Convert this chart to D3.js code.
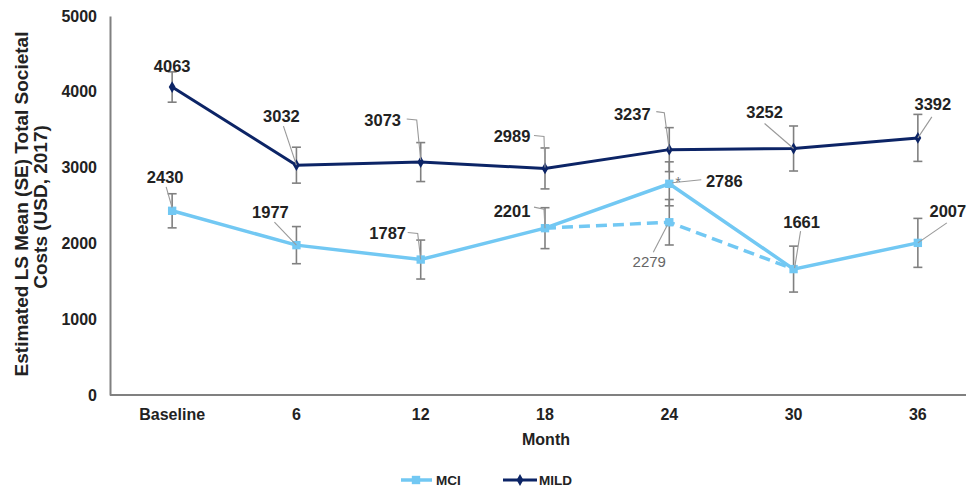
<!DOCTYPE html>
<html><head><meta charset="utf-8">
<script src="https://cdn.jsdelivr.net/npm/d3@7/dist/d3.min.js"></script>
<style>body{margin:0;background:#fff}svg{display:block}text{font-family:"Liberation Sans",Arial,sans-serif}</style>
</head><body><svg id="c" width="968" height="490"></svg>
<script>
// ---- data ----
const months = ["Baseline","6","12","18","24","30","36"];
const mciValues = [2430,1977,1787,2201,2786,1661,2007];
const mciSE = [225,245,257,270,290,303,323];
const mildValues = [4063,3032,3073,2989,3237,3252,3392];
const mildSE = [200,237,257,270,290,297,310];
const mciAltMonths = ["18","24","30"];
const mciAltValues = [2201,2279,1661];
const mciAltSE = [null,300,null];
const yTicks = [0,1000,2000,3000,4000,5000];

// ---- layout (label offsets relative to point, leader points relative to point) ----
const mildLabelPos = [
  {dx:0,dy:-15,leader:null},
  {dx:-15,dy:-43,leader:[[-13,-39],[0,0]]},
  {dx:-38,dy:-36,leader:[[-14,-43],[-4,-42],[0,-2]]},
  {dx:-33,dy:-26,leader:[[-11,-33],[-1,-32],[0,-1]]},
  {dx:-37,dy:-30,leader:[[-13,-38],[-5,-37],[0,0]]},
  {dx:-29,dy:-30,leader:[[-29,-25],[0,0]]},
  {dx:15,dy:-28,leader:[[14,-21],[0,0]]}
];
const mciLabelPos = [
  {dx:-7,dy:-28,leader:[[-6,-24],[0,-3]]},
  {dx:-26,dy:-27,leader:[[-22,-23],[0,0]]},
  {dx:-33,dy:-21,leader:[[-13,-27],[-3,-26],[0,0]]},
  {dx:-33,dy:-11,leader:[[-11,-21],[-1,-19],[0,0]]},
  {dx:55,dy:3,leader:[[3,-1],[32,-4]]},
  {dx:8,dy:-41,leader:[[7,-38],[1,-1]]},
  {dx:30,dy:-26,leader:[[29,-20],[0,0]]}
];
const altLabelPos = {dx:-20,dy:45,leader:[[-16,30],[-2,3]]};

const svg = d3.select("#c");
const x = d3.scaleBand().domain(months).range([110,980]).padding(0);
const cx = m => x(m) + x.bandwidth()/2;
const y = d3.scaleLinear().domain([0,5000]).range([395,16]);

const MCI = "#72c8f3", MILD = "#0c2466", GRAY = "#808080";

// axes
const yAxis = svg.append("g").attr("transform","translate(110,0)")
  .call(d3.axisLeft(y).tickValues(yTicks).tickFormat(d3.format("d")).tickSize(0).tickPadding(13));
yAxis.select(".domain").attr("stroke",GRAY).attr("stroke-width",2);
yAxis.selectAll("text").attr("font-size",16).attr("font-weight","bold").attr("fill","#222");

const xAxis = svg.append("g").attr("transform","translate(0,395)")
  .call(d3.axisBottom(x).tickSize(0).tickPadding(14));
xAxis.select(".domain").attr("d","M110,0H966").attr("stroke",GRAY).attr("stroke-width",2);
xAxis.selectAll("text").attr("font-size",16).attr("font-weight","bold").attr("fill","#222");

svg.append("text").attr("x",546).attr("y",445).attr("text-anchor","middle")
  .attr("font-size",16).attr("font-weight","bold").attr("fill","#222").text("Month");

const yt = svg.append("text").attr("transform","rotate(-90)")
  .attr("text-anchor","middle").attr("font-size",19).attr("font-weight","bold").attr("fill","#222");
yt.append("tspan").attr("x",-204).attr("y",28).text("Estimated LS Mean (SE) Total Societal");
yt.append("tspan").attr("x",-207).attr("y",47).text("Costs (USD, 2017)");

// lines
const line = d3.line().x(d=>cx(d.m)).y(d=>y(d.v));
const mciData = months.map((m,i)=>({m,v:mciValues[i],se:mciSE[i]}));
const mildData = months.map((m,i)=>({m,v:mildValues[i],se:mildSE[i]}));
const altData = mciAltMonths.map((m,i)=>({m,v:mciAltValues[i],se:mciAltSE[i]}));

svg.append("path").datum(altData).attr("d",line).attr("fill","none")
  .attr("stroke",MCI).attr("stroke-width",3.5).attr("stroke-dasharray","11,6");
svg.append("path").datum(mciData).attr("d",line).attr("fill","none")
  .attr("stroke",MCI).attr("stroke-width",3.5);
svg.append("path").datum(mildData).attr("d",line).attr("fill","none")
  .attr("stroke",MILD).attr("stroke-width",3);

// error bars
const ebData = mildData.concat(mciData, altData.filter(d=>d.se!=null));
const eb = svg.append("g").attr("stroke",GRAY).attr("stroke-width",1.6);
ebData.forEach(d=>{
  const X = cx(d.m), y1 = y(d.v+d.se), y2 = y(d.v-d.se);
  eb.append("line").attr("x1",X).attr("x2",X).attr("y1",y1).attr("y2",y2);
  eb.append("line").attr("x1",X-4.5).attr("x2",X+4.5).attr("y1",y1).attr("y2",y1);
  eb.append("line").attr("x1",X-4.5).attr("x2",X+4.5).attr("y1",y2).attr("y2",y2);
});

// markers
const sq = d3.symbol().type(d3.symbolSquare).size(70);
const dia = d3.symbol().type(d3.symbolDiamond).size(40);
svg.append("g").selectAll("path").data(mciData.concat([altData[1]])).join("path")
  .attr("d",sq).attr("transform",d=>`translate(${cx(d.m)},${y(d.v)})`).attr("fill",MCI);
svg.append("g").selectAll("path").data(mildData).join("path")
  .attr("d",dia).attr("transform",d=>`translate(${cx(d.m)},${y(d.v)})`).attr("fill",MILD);

// labels
function labels(data, pos, opts){
  data.forEach((d,i)=>{
    const p = pos[i] || pos;
    const X = cx(d.m), Y = y(d.v);
    if(p.leader){
      svg.append("path").attr("d",d3.line()(p.leader.map(q=>[X+q[0],Y+q[1]])))
        .attr("fill","none").attr("stroke","#999").attr("stroke-width",1.1);
    }
    svg.append("text").attr("x",X+p.dx).attr("y",Y+p.dy).attr("text-anchor","middle")
      .attr("font-size",opts.size).attr("font-weight",opts.weight).attr("fill",opts.fill)
      .text(d.v);
  });
}
labels(mildData, mildLabelPos, {size:16.5,weight:"bold",fill:"#222"});
labels(mciData, mciLabelPos, {size:16.5,weight:"bold",fill:"#222"});
labels([altData[1]], [altLabelPos], {size:15,weight:"normal",fill:"#666"});
svg.append("text").attr("x",cx("24")+9).attr("y",y(2786)+3).attr("text-anchor","middle")
  .attr("font-size",15).attr("fill","#777").text("*");

// legend
const lg = svg.append("g");
lg.append("line").attr("x1",401).attr("x2",432).attr("y1",480).attr("y2",480).attr("stroke",MCI).attr("stroke-width",3.5);
lg.append("path").attr("d",sq).attr("transform","translate(416,480)").attr("fill",MCI);
lg.append("text").attr("x",436).attr("y",485).attr("font-size",13.5).attr("font-weight","bold").attr("fill","#222").text("MCI");
lg.append("line").attr("x1",503).attr("x2",537).attr("y1",480).attr("y2",480).attr("stroke",MILD).attr("stroke-width",3);
lg.append("path").attr("d",dia).attr("transform","translate(520,480)").attr("fill",MILD);
lg.append("text").attr("x",539).attr("y",485).attr("font-size",13.5).attr("font-weight","bold").attr("fill","#222").text("MILD");
</script></body></html>
